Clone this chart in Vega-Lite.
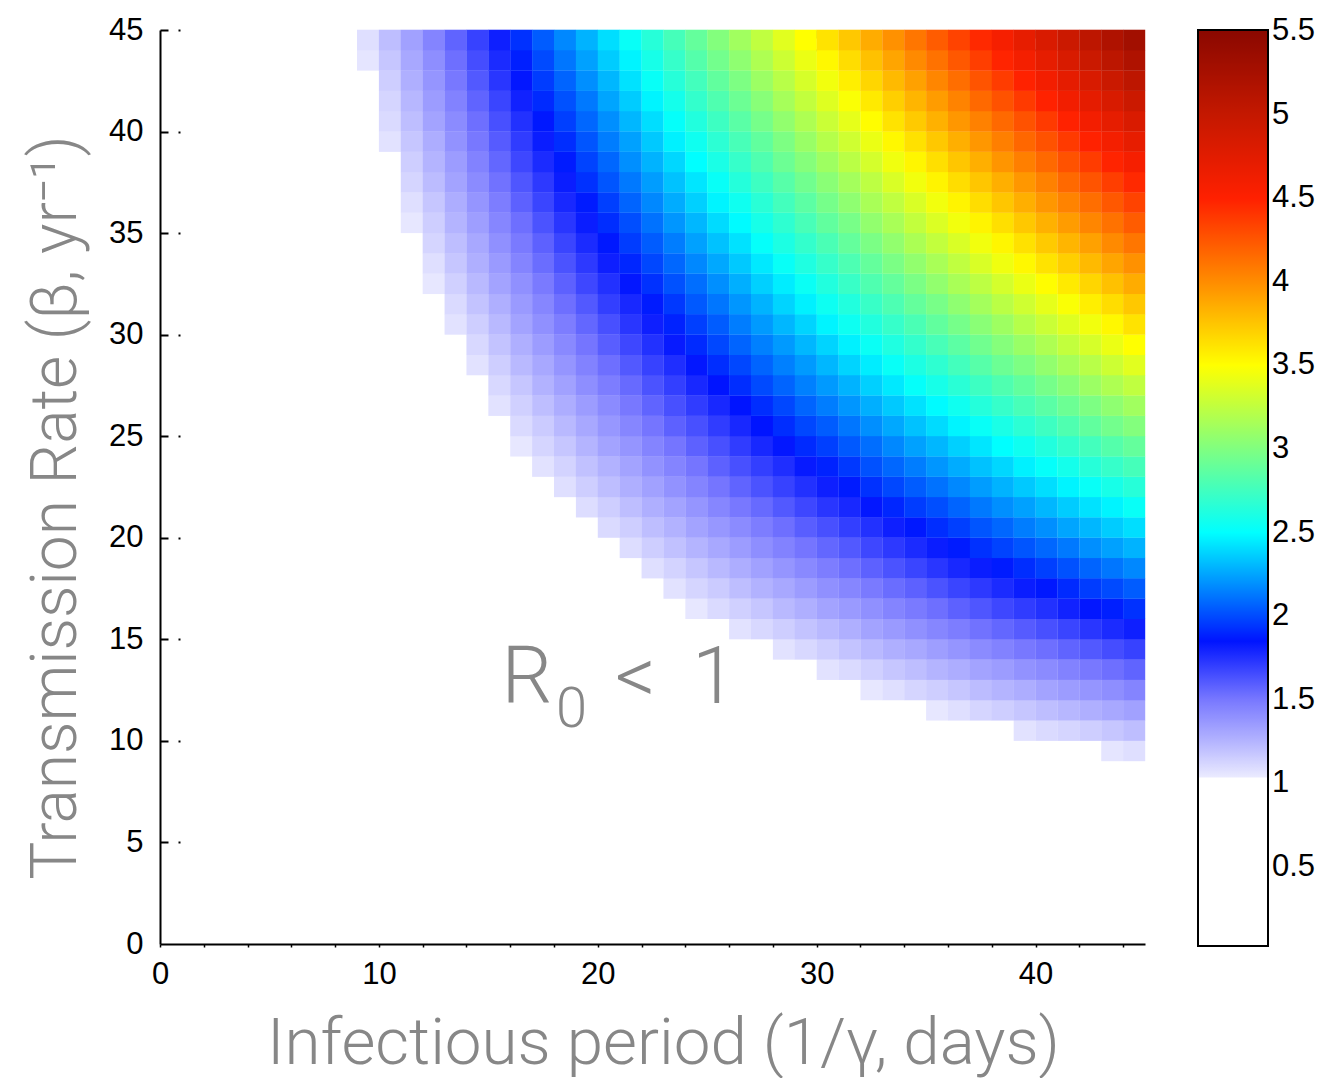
{
"$schema": "https://vega.github.io/schema/vega-lite/v6.json",
"width": 985,
"height": 914,
"autosize": {"type": "none"},
"padding": {"left": 160, "top": 30, "right": 181, "bottom": 134},
"background": "white",
"config": {
  "view": {"stroke": null},
  "axis": {"domainColor": "#000", "domainWidth": 2, "labelFont": "Liberation Sans", "labelFontSize": 31, "labelColor": "#000", "titleFont": "Roboto", "titleFontWeight": 300, "titleFontSize": 64, "titleColor": "#878787", "gridColor": "#000"},
  "legend": {"gradientVerticalMaxLength": 1000}
},
"layer": [
{
"data": {"values": [
{"d":9,"b":43,"r":1.06},{"d":9,"b":44,"r":1.08},
{"d":10,"b":39,"r":1.07},{"d":10,"b":40,"r":1.10},{"d":10,"b":41,"r":1.12},{"d":10,"b":42,"r":1.15},{"d":10,"b":43,"r":1.18},{"d":10,"b":44,"r":1.21},
{"d":11,"b":35,"r":1.05},{"d":11,"b":36,"r":1.08},{"d":11,"b":37,"r":1.12},{"d":11,"b":38,"r":1.15},{"d":11,"b":39,"r":1.18},{"d":11,"b":40,"r":1.21},{"d":11,"b":41,"r":1.24},{"d":11,"b":42,"r":1.27},{"d":11,"b":43,"r":1.30},{"d":11,"b":44,"r":1.33},
{"d":12,"b":32,"r":1.05},{"d":12,"b":33,"r":1.08},{"d":12,"b":34,"r":1.12},{"d":12,"b":35,"r":1.15},{"d":12,"b":36,"r":1.18},{"d":12,"b":37,"r":1.22},{"d":12,"b":38,"r":1.25},{"d":12,"b":39,"r":1.28},{"d":12,"b":40,"r":1.32},{"d":12,"b":41,"r":1.35},{"d":12,"b":42,"r":1.38},{"d":12,"b":43,"r":1.41},{"d":12,"b":44,"r":1.45},
{"d":13,"b":30,"r":1.07},{"d":13,"b":31,"r":1.10},{"d":13,"b":32,"r":1.14},{"d":13,"b":33,"r":1.18},{"d":13,"b":34,"r":1.21},{"d":13,"b":35,"r":1.25},{"d":13,"b":36,"r":1.28},{"d":13,"b":37,"r":1.32},{"d":13,"b":38,"r":1.35},{"d":13,"b":39,"r":1.39},{"d":13,"b":40,"r":1.42},{"d":13,"b":41,"r":1.46},{"d":13,"b":42,"r":1.50},{"d":13,"b":43,"r":1.53},{"d":13,"b":44,"r":1.57},
{"d":14,"b":28,"r":1.07},{"d":14,"b":29,"r":1.11},{"d":14,"b":30,"r":1.15},{"d":14,"b":31,"r":1.19},{"d":14,"b":32,"r":1.23},{"d":14,"b":33,"r":1.27},{"d":14,"b":34,"r":1.30},{"d":14,"b":35,"r":1.34},{"d":14,"b":36,"r":1.38},{"d":14,"b":37,"r":1.42},{"d":14,"b":38,"r":1.46},{"d":14,"b":39,"r":1.50},{"d":14,"b":40,"r":1.53},{"d":14,"b":41,"r":1.57},{"d":14,"b":42,"r":1.61},{"d":14,"b":43,"r":1.65},{"d":14,"b":44,"r":1.69},
{"d":15,"b":26,"r":1.07},{"d":15,"b":27,"r":1.11},{"d":15,"b":28,"r":1.15},{"d":15,"b":29,"r":1.19},{"d":15,"b":30,"r":1.23},{"d":15,"b":31,"r":1.27},{"d":15,"b":32,"r":1.32},{"d":15,"b":33,"r":1.36},{"d":15,"b":34,"r":1.40},{"d":15,"b":35,"r":1.44},{"d":15,"b":36,"r":1.48},{"d":15,"b":37,"r":1.52},{"d":15,"b":38,"r":1.56},{"d":15,"b":39,"r":1.60},{"d":15,"b":40,"r":1.64},{"d":15,"b":41,"r":1.68},{"d":15,"b":42,"r":1.73},{"d":15,"b":43,"r":1.77},{"d":15,"b":44,"r":1.81},
{"d":16,"b":24,"r":1.05},{"d":16,"b":25,"r":1.10},{"d":16,"b":26,"r":1.14},{"d":16,"b":27,"r":1.18},{"d":16,"b":28,"r":1.23},{"d":16,"b":29,"r":1.27},{"d":16,"b":30,"r":1.32},{"d":16,"b":31,"r":1.36},{"d":16,"b":32,"r":1.40},{"d":16,"b":33,"r":1.45},{"d":16,"b":34,"r":1.49},{"d":16,"b":35,"r":1.53},{"d":16,"b":36,"r":1.58},{"d":16,"b":37,"r":1.62},{"d":16,"b":38,"r":1.67},{"d":16,"b":39,"r":1.71},{"d":16,"b":40,"r":1.75},{"d":16,"b":41,"r":1.80},{"d":16,"b":42,"r":1.84},{"d":16,"b":43,"r":1.88},{"d":16,"b":44,"r":1.93},
{"d":17,"b":23,"r":1.07},{"d":17,"b":24,"r":1.12},{"d":17,"b":25,"r":1.16},{"d":17,"b":26,"r":1.21},{"d":17,"b":27,"r":1.26},{"d":17,"b":28,"r":1.30},{"d":17,"b":29,"r":1.35},{"d":17,"b":30,"r":1.40},{"d":17,"b":31,"r":1.44},{"d":17,"b":32,"r":1.49},{"d":17,"b":33,"r":1.54},{"d":17,"b":34,"r":1.58},{"d":17,"b":35,"r":1.63},{"d":17,"b":36,"r":1.68},{"d":17,"b":37,"r":1.72},{"d":17,"b":38,"r":1.77},{"d":17,"b":39,"r":1.82},{"d":17,"b":40,"r":1.86},{"d":17,"b":41,"r":1.91},{"d":17,"b":42,"r":1.96},{"d":17,"b":43,"r":2.00},{"d":17,"b":44,"r":2.05},
{"d":18,"b":22,"r":1.08},{"d":18,"b":23,"r":1.13},{"d":18,"b":24,"r":1.18},{"d":18,"b":25,"r":1.23},{"d":18,"b":26,"r":1.28},{"d":18,"b":27,"r":1.33},{"d":18,"b":28,"r":1.38},{"d":18,"b":29,"r":1.43},{"d":18,"b":30,"r":1.48},{"d":18,"b":31,"r":1.53},{"d":18,"b":32,"r":1.58},{"d":18,"b":33,"r":1.63},{"d":18,"b":34,"r":1.68},{"d":18,"b":35,"r":1.73},{"d":18,"b":36,"r":1.78},{"d":18,"b":37,"r":1.82},{"d":18,"b":38,"r":1.87},{"d":18,"b":39,"r":1.92},{"d":18,"b":40,"r":1.97},{"d":18,"b":41,"r":2.02},{"d":18,"b":42,"r":2.07},{"d":18,"b":43,"r":2.12},{"d":18,"b":44,"r":2.17},
{"d":19,"b":21,"r":1.09},{"d":19,"b":22,"r":1.15},{"d":19,"b":23,"r":1.20},{"d":19,"b":24,"r":1.25},{"d":19,"b":25,"r":1.30},{"d":19,"b":26,"r":1.35},{"d":19,"b":27,"r":1.41},{"d":19,"b":28,"r":1.46},{"d":19,"b":29,"r":1.51},{"d":19,"b":30,"r":1.56},{"d":19,"b":31,"r":1.61},{"d":19,"b":32,"r":1.67},{"d":19,"b":33,"r":1.72},{"d":19,"b":34,"r":1.77},{"d":19,"b":35,"r":1.82},{"d":19,"b":36,"r":1.87},{"d":19,"b":37,"r":1.93},{"d":19,"b":38,"r":1.98},{"d":19,"b":39,"r":2.03},{"d":19,"b":40,"r":2.08},{"d":19,"b":41,"r":2.13},{"d":19,"b":42,"r":2.19},{"d":19,"b":43,"r":2.24},{"d":19,"b":44,"r":2.29},
{"d":20,"b":20,"r":1.10},{"d":20,"b":21,"r":1.15},{"d":20,"b":22,"r":1.21},{"d":20,"b":23,"r":1.26},{"d":20,"b":24,"r":1.32},{"d":20,"b":25,"r":1.37},{"d":20,"b":26,"r":1.42},{"d":20,"b":27,"r":1.48},{"d":20,"b":28,"r":1.53},{"d":20,"b":29,"r":1.59},{"d":20,"b":30,"r":1.64},{"d":20,"b":31,"r":1.70},{"d":20,"b":32,"r":1.75},{"d":20,"b":33,"r":1.81},{"d":20,"b":34,"r":1.86},{"d":20,"b":35,"r":1.92},{"d":20,"b":36,"r":1.97},{"d":20,"b":37,"r":2.03},{"d":20,"b":38,"r":2.08},{"d":20,"b":39,"r":2.14},{"d":20,"b":40,"r":2.19},{"d":20,"b":41,"r":2.25},{"d":20,"b":42,"r":2.30},{"d":20,"b":43,"r":2.36},{"d":20,"b":44,"r":2.41},
{"d":21,"b":19,"r":1.09},{"d":21,"b":20,"r":1.15},{"d":21,"b":21,"r":1.21},{"d":21,"b":22,"r":1.27},{"d":21,"b":23,"r":1.32},{"d":21,"b":24,"r":1.38},{"d":21,"b":25,"r":1.44},{"d":21,"b":26,"r":1.50},{"d":21,"b":27,"r":1.55},{"d":21,"b":28,"r":1.61},{"d":21,"b":29,"r":1.67},{"d":21,"b":30,"r":1.73},{"d":21,"b":31,"r":1.78},{"d":21,"b":32,"r":1.84},{"d":21,"b":33,"r":1.90},{"d":21,"b":34,"r":1.96},{"d":21,"b":35,"r":2.01},{"d":21,"b":36,"r":2.07},{"d":21,"b":37,"r":2.13},{"d":21,"b":38,"r":2.19},{"d":21,"b":39,"r":2.24},{"d":21,"b":40,"r":2.30},{"d":21,"b":41,"r":2.36},{"d":21,"b":42,"r":2.42},{"d":21,"b":43,"r":2.47},{"d":21,"b":44,"r":2.53},
{"d":22,"b":18,"r":1.08},{"d":22,"b":19,"r":1.15},{"d":22,"b":20,"r":1.21},{"d":22,"b":21,"r":1.27},{"d":22,"b":22,"r":1.33},{"d":22,"b":23,"r":1.39},{"d":22,"b":24,"r":1.45},{"d":22,"b":25,"r":1.51},{"d":22,"b":26,"r":1.57},{"d":22,"b":27,"r":1.63},{"d":22,"b":28,"r":1.69},{"d":22,"b":29,"r":1.75},{"d":22,"b":30,"r":1.81},{"d":22,"b":31,"r":1.87},{"d":22,"b":32,"r":1.93},{"d":22,"b":33,"r":1.99},{"d":22,"b":34,"r":2.05},{"d":22,"b":35,"r":2.11},{"d":22,"b":36,"r":2.17},{"d":22,"b":37,"r":2.23},{"d":22,"b":38,"r":2.29},{"d":22,"b":39,"r":2.35},{"d":22,"b":40,"r":2.41},{"d":22,"b":41,"r":2.47},{"d":22,"b":42,"r":2.53},{"d":22,"b":43,"r":2.59},{"d":22,"b":44,"r":2.65},
{"d":23,"b":17,"r":1.07},{"d":23,"b":18,"r":1.13},{"d":23,"b":19,"r":1.20},{"d":23,"b":20,"r":1.26},{"d":23,"b":21,"r":1.32},{"d":23,"b":22,"r":1.39},{"d":23,"b":23,"r":1.45},{"d":23,"b":24,"r":1.51},{"d":23,"b":25,"r":1.58},{"d":23,"b":26,"r":1.64},{"d":23,"b":27,"r":1.70},{"d":23,"b":28,"r":1.76},{"d":23,"b":29,"r":1.83},{"d":23,"b":30,"r":1.89},{"d":23,"b":31,"r":1.95},{"d":23,"b":32,"r":2.02},{"d":23,"b":33,"r":2.08},{"d":23,"b":34,"r":2.14},{"d":23,"b":35,"r":2.21},{"d":23,"b":36,"r":2.27},{"d":23,"b":37,"r":2.33},{"d":23,"b":38,"r":2.39},{"d":23,"b":39,"r":2.46},{"d":23,"b":40,"r":2.52},{"d":23,"b":41,"r":2.58},{"d":23,"b":42,"r":2.65},{"d":23,"b":43,"r":2.71},{"d":23,"b":44,"r":2.77},
{"d":24,"b":16,"r":1.05},{"d":24,"b":17,"r":1.12},{"d":24,"b":18,"r":1.18},{"d":24,"b":19,"r":1.25},{"d":24,"b":20,"r":1.32},{"d":24,"b":21,"r":1.38},{"d":24,"b":22,"r":1.45},{"d":24,"b":23,"r":1.51},{"d":24,"b":24,"r":1.58},{"d":24,"b":25,"r":1.64},{"d":24,"b":26,"r":1.71},{"d":24,"b":27,"r":1.78},{"d":24,"b":28,"r":1.84},{"d":24,"b":29,"r":1.91},{"d":24,"b":30,"r":1.97},{"d":24,"b":31,"r":2.04},{"d":24,"b":32,"r":2.10},{"d":24,"b":33,"r":2.17},{"d":24,"b":34,"r":2.24},{"d":24,"b":35,"r":2.30},{"d":24,"b":36,"r":2.37},{"d":24,"b":37,"r":2.43},{"d":24,"b":38,"r":2.50},{"d":24,"b":39,"r":2.56},{"d":24,"b":40,"r":2.63},{"d":24,"b":41,"r":2.70},{"d":24,"b":42,"r":2.76},{"d":24,"b":43,"r":2.83},{"d":24,"b":44,"r":2.89},
{"d":25,"b":16,"r":1.10},{"d":25,"b":17,"r":1.16},{"d":25,"b":18,"r":1.23},{"d":25,"b":19,"r":1.30},{"d":25,"b":20,"r":1.37},{"d":25,"b":21,"r":1.44},{"d":25,"b":22,"r":1.51},{"d":25,"b":23,"r":1.58},{"d":25,"b":24,"r":1.64},{"d":25,"b":25,"r":1.71},{"d":25,"b":26,"r":1.78},{"d":25,"b":27,"r":1.85},{"d":25,"b":28,"r":1.92},{"d":25,"b":29,"r":1.99},{"d":25,"b":30,"r":2.05},{"d":25,"b":31,"r":2.12},{"d":25,"b":32,"r":2.19},{"d":25,"b":33,"r":2.26},{"d":25,"b":34,"r":2.33},{"d":25,"b":35,"r":2.40},{"d":25,"b":36,"r":2.47},{"d":25,"b":37,"r":2.53},{"d":25,"b":38,"r":2.60},{"d":25,"b":39,"r":2.67},{"d":25,"b":40,"r":2.74},{"d":25,"b":41,"r":2.81},{"d":25,"b":42,"r":2.88},{"d":25,"b":43,"r":2.95},{"d":25,"b":44,"r":3.01},
{"d":26,"b":15,"r":1.07},{"d":26,"b":16,"r":1.14},{"d":26,"b":17,"r":1.21},{"d":26,"b":18,"r":1.28},{"d":26,"b":19,"r":1.35},{"d":26,"b":20,"r":1.42},{"d":26,"b":21,"r":1.50},{"d":26,"b":22,"r":1.57},{"d":26,"b":23,"r":1.64},{"d":26,"b":24,"r":1.71},{"d":26,"b":25,"r":1.78},{"d":26,"b":26,"r":1.85},{"d":26,"b":27,"r":1.92},{"d":26,"b":28,"r":1.99},{"d":26,"b":29,"r":2.07},{"d":26,"b":30,"r":2.14},{"d":26,"b":31,"r":2.21},{"d":26,"b":32,"r":2.28},{"d":26,"b":33,"r":2.35},{"d":26,"b":34,"r":2.42},{"d":26,"b":35,"r":2.49},{"d":26,"b":36,"r":2.56},{"d":26,"b":37,"r":2.64},{"d":26,"b":38,"r":2.71},{"d":26,"b":39,"r":2.78},{"d":26,"b":40,"r":2.85},{"d":26,"b":41,"r":2.92},{"d":26,"b":42,"r":2.99},{"d":26,"b":43,"r":3.06},{"d":26,"b":44,"r":3.13},
{"d":27,"b":15,"r":1.11},{"d":27,"b":16,"r":1.18},{"d":27,"b":17,"r":1.26},{"d":27,"b":18,"r":1.33},{"d":27,"b":19,"r":1.41},{"d":27,"b":20,"r":1.48},{"d":27,"b":21,"r":1.55},{"d":27,"b":22,"r":1.63},{"d":27,"b":23,"r":1.70},{"d":27,"b":24,"r":1.78},{"d":27,"b":25,"r":1.85},{"d":27,"b":26,"r":1.92},{"d":27,"b":27,"r":2.00},{"d":27,"b":28,"r":2.07},{"d":27,"b":29,"r":2.15},{"d":27,"b":30,"r":2.22},{"d":27,"b":31,"r":2.29},{"d":27,"b":32,"r":2.37},{"d":27,"b":33,"r":2.44},{"d":27,"b":34,"r":2.52},{"d":27,"b":35,"r":2.59},{"d":27,"b":36,"r":2.66},{"d":27,"b":37,"r":2.74},{"d":27,"b":38,"r":2.81},{"d":27,"b":39,"r":2.88},{"d":27,"b":40,"r":2.96},{"d":27,"b":41,"r":3.03},{"d":27,"b":42,"r":3.11},{"d":27,"b":43,"r":3.18},{"d":27,"b":44,"r":3.25},
{"d":28,"b":14,"r":1.07},{"d":28,"b":15,"r":1.15},{"d":28,"b":16,"r":1.23},{"d":28,"b":17,"r":1.30},{"d":28,"b":18,"r":1.38},{"d":28,"b":19,"r":1.46},{"d":28,"b":20,"r":1.53},{"d":28,"b":21,"r":1.61},{"d":28,"b":22,"r":1.69},{"d":28,"b":23,"r":1.76},{"d":28,"b":24,"r":1.84},{"d":28,"b":25,"r":1.92},{"d":28,"b":26,"r":1.99},{"d":28,"b":27,"r":2.07},{"d":28,"b":28,"r":2.15},{"d":28,"b":29,"r":2.22},{"d":28,"b":30,"r":2.30},{"d":28,"b":31,"r":2.38},{"d":28,"b":32,"r":2.45},{"d":28,"b":33,"r":2.53},{"d":28,"b":34,"r":2.61},{"d":28,"b":35,"r":2.68},{"d":28,"b":36,"r":2.76},{"d":28,"b":37,"r":2.84},{"d":28,"b":38,"r":2.92},{"d":28,"b":39,"r":2.99},{"d":28,"b":40,"r":3.07},{"d":28,"b":41,"r":3.15},{"d":28,"b":42,"r":3.22},{"d":28,"b":43,"r":3.30},{"d":28,"b":44,"r":3.38},
{"d":29,"b":14,"r":1.11},{"d":29,"b":15,"r":1.19},{"d":29,"b":16,"r":1.27},{"d":29,"b":17,"r":1.35},{"d":29,"b":18,"r":1.43},{"d":29,"b":19,"r":1.51},{"d":29,"b":20,"r":1.59},{"d":29,"b":21,"r":1.67},{"d":29,"b":22,"r":1.75},{"d":29,"b":23,"r":1.83},{"d":29,"b":24,"r":1.91},{"d":29,"b":25,"r":1.99},{"d":29,"b":26,"r":2.07},{"d":29,"b":27,"r":2.15},{"d":29,"b":28,"r":2.22},{"d":29,"b":29,"r":2.30},{"d":29,"b":30,"r":2.38},{"d":29,"b":31,"r":2.46},{"d":29,"b":32,"r":2.54},{"d":29,"b":33,"r":2.62},{"d":29,"b":34,"r":2.70},{"d":29,"b":35,"r":2.78},{"d":29,"b":36,"r":2.86},{"d":29,"b":37,"r":2.94},{"d":29,"b":38,"r":3.02},{"d":29,"b":39,"r":3.10},{"d":29,"b":40,"r":3.18},{"d":29,"b":41,"r":3.26},{"d":29,"b":42,"r":3.34},{"d":29,"b":43,"r":3.42},{"d":29,"b":44,"r":3.50},
{"d":30,"b":13,"r":1.07},{"d":30,"b":14,"r":1.15},{"d":30,"b":15,"r":1.23},{"d":30,"b":16,"r":1.32},{"d":30,"b":17,"r":1.40},{"d":30,"b":18,"r":1.48},{"d":30,"b":19,"r":1.56},{"d":30,"b":20,"r":1.64},{"d":30,"b":21,"r":1.73},{"d":30,"b":22,"r":1.81},{"d":30,"b":23,"r":1.89},{"d":30,"b":24,"r":1.97},{"d":30,"b":25,"r":2.05},{"d":30,"b":26,"r":2.14},{"d":30,"b":27,"r":2.22},{"d":30,"b":28,"r":2.30},{"d":30,"b":29,"r":2.38},{"d":30,"b":30,"r":2.47},{"d":30,"b":31,"r":2.55},{"d":30,"b":32,"r":2.63},{"d":30,"b":33,"r":2.71},{"d":30,"b":34,"r":2.79},{"d":30,"b":35,"r":2.88},{"d":30,"b":36,"r":2.96},{"d":30,"b":37,"r":3.04},{"d":30,"b":38,"r":3.12},{"d":30,"b":39,"r":3.21},{"d":30,"b":40,"r":3.29},{"d":30,"b":41,"r":3.37},{"d":30,"b":42,"r":3.45},{"d":30,"b":43,"r":3.53},{"d":30,"b":44,"r":3.62},
{"d":31,"b":13,"r":1.10},{"d":31,"b":14,"r":1.19},{"d":31,"b":15,"r":1.27},{"d":31,"b":16,"r":1.36},{"d":31,"b":17,"r":1.44},{"d":31,"b":18,"r":1.53},{"d":31,"b":19,"r":1.61},{"d":31,"b":20,"r":1.70},{"d":31,"b":21,"r":1.78},{"d":31,"b":22,"r":1.87},{"d":31,"b":23,"r":1.95},{"d":31,"b":24,"r":2.04},{"d":31,"b":25,"r":2.12},{"d":31,"b":26,"r":2.21},{"d":31,"b":27,"r":2.29},{"d":31,"b":28,"r":2.38},{"d":31,"b":29,"r":2.46},{"d":31,"b":30,"r":2.55},{"d":31,"b":31,"r":2.63},{"d":31,"b":32,"r":2.72},{"d":31,"b":33,"r":2.80},{"d":31,"b":34,"r":2.89},{"d":31,"b":35,"r":2.97},{"d":31,"b":36,"r":3.06},{"d":31,"b":37,"r":3.14},{"d":31,"b":38,"r":3.23},{"d":31,"b":39,"r":3.31},{"d":31,"b":40,"r":3.40},{"d":31,"b":41,"r":3.48},{"d":31,"b":42,"r":3.57},{"d":31,"b":43,"r":3.65},{"d":31,"b":44,"r":3.74},
{"d":32,"b":12,"r":1.05},{"d":32,"b":13,"r":1.14},{"d":32,"b":14,"r":1.23},{"d":32,"b":15,"r":1.32},{"d":32,"b":16,"r":1.40},{"d":32,"b":17,"r":1.49},{"d":32,"b":18,"r":1.58},{"d":32,"b":19,"r":1.67},{"d":32,"b":20,"r":1.75},{"d":32,"b":21,"r":1.84},{"d":32,"b":22,"r":1.93},{"d":32,"b":23,"r":2.02},{"d":32,"b":24,"r":2.10},{"d":32,"b":25,"r":2.19},{"d":32,"b":26,"r":2.28},{"d":32,"b":27,"r":2.37},{"d":32,"b":28,"r":2.45},{"d":32,"b":29,"r":2.54},{"d":32,"b":30,"r":2.63},{"d":32,"b":31,"r":2.72},{"d":32,"b":32,"r":2.81},{"d":32,"b":33,"r":2.89},{"d":32,"b":34,"r":2.98},{"d":32,"b":35,"r":3.07},{"d":32,"b":36,"r":3.16},{"d":32,"b":37,"r":3.24},{"d":32,"b":38,"r":3.33},{"d":32,"b":39,"r":3.42},{"d":32,"b":40,"r":3.51},{"d":32,"b":41,"r":3.59},{"d":32,"b":42,"r":3.68},{"d":32,"b":43,"r":3.77},{"d":32,"b":44,"r":3.86},
{"d":33,"b":12,"r":1.08},{"d":33,"b":13,"r":1.18},{"d":33,"b":14,"r":1.27},{"d":33,"b":15,"r":1.36},{"d":33,"b":16,"r":1.45},{"d":33,"b":17,"r":1.54},{"d":33,"b":18,"r":1.63},{"d":33,"b":19,"r":1.72},{"d":33,"b":20,"r":1.81},{"d":33,"b":21,"r":1.90},{"d":33,"b":22,"r":1.99},{"d":33,"b":23,"r":2.08},{"d":33,"b":24,"r":2.17},{"d":33,"b":25,"r":2.26},{"d":33,"b":26,"r":2.35},{"d":33,"b":27,"r":2.44},{"d":33,"b":28,"r":2.53},{"d":33,"b":29,"r":2.62},{"d":33,"b":30,"r":2.71},{"d":33,"b":31,"r":2.80},{"d":33,"b":32,"r":2.89},{"d":33,"b":33,"r":2.98},{"d":33,"b":34,"r":3.07},{"d":33,"b":35,"r":3.16},{"d":33,"b":36,"r":3.25},{"d":33,"b":37,"r":3.35},{"d":33,"b":38,"r":3.44},{"d":33,"b":39,"r":3.53},{"d":33,"b":40,"r":3.62},{"d":33,"b":41,"r":3.71},{"d":33,"b":42,"r":3.80},{"d":33,"b":43,"r":3.89},{"d":33,"b":44,"r":3.98},
{"d":34,"b":12,"r":1.12},{"d":34,"b":13,"r":1.21},{"d":34,"b":14,"r":1.30},{"d":34,"b":15,"r":1.40},{"d":34,"b":16,"r":1.49},{"d":34,"b":17,"r":1.58},{"d":34,"b":18,"r":1.68},{"d":34,"b":19,"r":1.77},{"d":34,"b":20,"r":1.86},{"d":34,"b":21,"r":1.96},{"d":34,"b":22,"r":2.05},{"d":34,"b":23,"r":2.14},{"d":34,"b":24,"r":2.24},{"d":34,"b":25,"r":2.33},{"d":34,"b":26,"r":2.42},{"d":34,"b":27,"r":2.52},{"d":34,"b":28,"r":2.61},{"d":34,"b":29,"r":2.70},{"d":34,"b":30,"r":2.79},{"d":34,"b":31,"r":2.89},{"d":34,"b":32,"r":2.98},{"d":34,"b":33,"r":3.07},{"d":34,"b":34,"r":3.17},{"d":34,"b":35,"r":3.26},{"d":34,"b":36,"r":3.35},{"d":34,"b":37,"r":3.45},{"d":34,"b":38,"r":3.54},{"d":34,"b":39,"r":3.63},{"d":34,"b":40,"r":3.73},{"d":34,"b":41,"r":3.82},{"d":34,"b":42,"r":3.91},{"d":34,"b":43,"r":4.01},{"d":34,"b":44,"r":4.10},
{"d":35,"b":11,"r":1.05},{"d":35,"b":12,"r":1.15},{"d":35,"b":13,"r":1.25},{"d":35,"b":14,"r":1.34},{"d":35,"b":15,"r":1.44},{"d":35,"b":16,"r":1.53},{"d":35,"b":17,"r":1.63},{"d":35,"b":18,"r":1.73},{"d":35,"b":19,"r":1.82},{"d":35,"b":20,"r":1.92},{"d":35,"b":21,"r":2.01},{"d":35,"b":22,"r":2.11},{"d":35,"b":23,"r":2.21},{"d":35,"b":24,"r":2.30},{"d":35,"b":25,"r":2.40},{"d":35,"b":26,"r":2.49},{"d":35,"b":27,"r":2.59},{"d":35,"b":28,"r":2.68},{"d":35,"b":29,"r":2.78},{"d":35,"b":30,"r":2.88},{"d":35,"b":31,"r":2.97},{"d":35,"b":32,"r":3.07},{"d":35,"b":33,"r":3.16},{"d":35,"b":34,"r":3.26},{"d":35,"b":35,"r":3.36},{"d":35,"b":36,"r":3.45},{"d":35,"b":37,"r":3.55},{"d":35,"b":38,"r":3.64},{"d":35,"b":39,"r":3.74},{"d":35,"b":40,"r":3.84},{"d":35,"b":41,"r":3.93},{"d":35,"b":42,"r":4.03},{"d":35,"b":43,"r":4.12},{"d":35,"b":44,"r":4.22},
{"d":36,"b":11,"r":1.08},{"d":36,"b":12,"r":1.18},{"d":36,"b":13,"r":1.28},{"d":36,"b":14,"r":1.38},{"d":36,"b":15,"r":1.48},{"d":36,"b":16,"r":1.58},{"d":36,"b":17,"r":1.68},{"d":36,"b":18,"r":1.78},{"d":36,"b":19,"r":1.87},{"d":36,"b":20,"r":1.97},{"d":36,"b":21,"r":2.07},{"d":36,"b":22,"r":2.17},{"d":36,"b":23,"r":2.27},{"d":36,"b":24,"r":2.37},{"d":36,"b":25,"r":2.47},{"d":36,"b":26,"r":2.56},{"d":36,"b":27,"r":2.66},{"d":36,"b":28,"r":2.76},{"d":36,"b":29,"r":2.86},{"d":36,"b":30,"r":2.96},{"d":36,"b":31,"r":3.06},{"d":36,"b":32,"r":3.16},{"d":36,"b":33,"r":3.25},{"d":36,"b":34,"r":3.35},{"d":36,"b":35,"r":3.45},{"d":36,"b":36,"r":3.55},{"d":36,"b":37,"r":3.65},{"d":36,"b":38,"r":3.75},{"d":36,"b":39,"r":3.85},{"d":36,"b":40,"r":3.95},{"d":36,"b":41,"r":4.04},{"d":36,"b":42,"r":4.14},{"d":36,"b":43,"r":4.24},{"d":36,"b":44,"r":4.34},
{"d":37,"b":11,"r":1.12},{"d":37,"b":12,"r":1.22},{"d":37,"b":13,"r":1.32},{"d":37,"b":14,"r":1.42},{"d":37,"b":15,"r":1.52},{"d":37,"b":16,"r":1.62},{"d":37,"b":17,"r":1.72},{"d":37,"b":18,"r":1.82},{"d":37,"b":19,"r":1.93},{"d":37,"b":20,"r":2.03},{"d":37,"b":21,"r":2.13},{"d":37,"b":22,"r":2.23},{"d":37,"b":23,"r":2.33},{"d":37,"b":24,"r":2.43},{"d":37,"b":25,"r":2.53},{"d":37,"b":26,"r":2.64},{"d":37,"b":27,"r":2.74},{"d":37,"b":28,"r":2.84},{"d":37,"b":29,"r":2.94},{"d":37,"b":30,"r":3.04},{"d":37,"b":31,"r":3.14},{"d":37,"b":32,"r":3.24},{"d":37,"b":33,"r":3.35},{"d":37,"b":34,"r":3.45},{"d":37,"b":35,"r":3.55},{"d":37,"b":36,"r":3.65},{"d":37,"b":37,"r":3.75},{"d":37,"b":38,"r":3.85},{"d":37,"b":39,"r":3.95},{"d":37,"b":40,"r":4.05},{"d":37,"b":41,"r":4.16},{"d":37,"b":42,"r":4.26},{"d":37,"b":43,"r":4.36},{"d":37,"b":44,"r":4.46},
{"d":38,"b":11,"r":1.15},{"d":38,"b":12,"r":1.25},{"d":38,"b":13,"r":1.35},{"d":38,"b":14,"r":1.46},{"d":38,"b":15,"r":1.56},{"d":38,"b":16,"r":1.67},{"d":38,"b":17,"r":1.77},{"d":38,"b":18,"r":1.87},{"d":38,"b":19,"r":1.98},{"d":38,"b":20,"r":2.08},{"d":38,"b":21,"r":2.19},{"d":38,"b":22,"r":2.29},{"d":38,"b":23,"r":2.39},{"d":38,"b":24,"r":2.50},{"d":38,"b":25,"r":2.60},{"d":38,"b":26,"r":2.71},{"d":38,"b":27,"r":2.81},{"d":38,"b":28,"r":2.92},{"d":38,"b":29,"r":3.02},{"d":38,"b":30,"r":3.12},{"d":38,"b":31,"r":3.23},{"d":38,"b":32,"r":3.33},{"d":38,"b":33,"r":3.44},{"d":38,"b":34,"r":3.54},{"d":38,"b":35,"r":3.64},{"d":38,"b":36,"r":3.75},{"d":38,"b":37,"r":3.85},{"d":38,"b":38,"r":3.96},{"d":38,"b":39,"r":4.06},{"d":38,"b":40,"r":4.16},{"d":38,"b":41,"r":4.27},{"d":38,"b":42,"r":4.37},{"d":38,"b":43,"r":4.48},{"d":38,"b":44,"r":4.58},
{"d":39,"b":10,"r":1.07},{"d":39,"b":11,"r":1.18},{"d":39,"b":12,"r":1.28},{"d":39,"b":13,"r":1.39},{"d":39,"b":14,"r":1.50},{"d":39,"b":15,"r":1.60},{"d":39,"b":16,"r":1.71},{"d":39,"b":17,"r":1.82},{"d":39,"b":18,"r":1.92},{"d":39,"b":19,"r":2.03},{"d":39,"b":20,"r":2.14},{"d":39,"b":21,"r":2.24},{"d":39,"b":22,"r":2.35},{"d":39,"b":23,"r":2.46},{"d":39,"b":24,"r":2.56},{"d":39,"b":25,"r":2.67},{"d":39,"b":26,"r":2.78},{"d":39,"b":27,"r":2.88},{"d":39,"b":28,"r":2.99},{"d":39,"b":29,"r":3.10},{"d":39,"b":30,"r":3.21},{"d":39,"b":31,"r":3.31},{"d":39,"b":32,"r":3.42},{"d":39,"b":33,"r":3.53},{"d":39,"b":34,"r":3.63},{"d":39,"b":35,"r":3.74},{"d":39,"b":36,"r":3.85},{"d":39,"b":37,"r":3.95},{"d":39,"b":38,"r":4.06},{"d":39,"b":39,"r":4.17},{"d":39,"b":40,"r":4.27},{"d":39,"b":41,"r":4.38},{"d":39,"b":42,"r":4.49},{"d":39,"b":43,"r":4.59},{"d":39,"b":44,"r":4.70},
{"d":40,"b":10,"r":1.10},{"d":40,"b":11,"r":1.21},{"d":40,"b":12,"r":1.32},{"d":40,"b":13,"r":1.42},{"d":40,"b":14,"r":1.53},{"d":40,"b":15,"r":1.64},{"d":40,"b":16,"r":1.75},{"d":40,"b":17,"r":1.86},{"d":40,"b":18,"r":1.97},{"d":40,"b":19,"r":2.08},{"d":40,"b":20,"r":2.19},{"d":40,"b":21,"r":2.30},{"d":40,"b":22,"r":2.41},{"d":40,"b":23,"r":2.52},{"d":40,"b":24,"r":2.63},{"d":40,"b":25,"r":2.74},{"d":40,"b":26,"r":2.85},{"d":40,"b":27,"r":2.96},{"d":40,"b":28,"r":3.07},{"d":40,"b":29,"r":3.18},{"d":40,"b":30,"r":3.29},{"d":40,"b":31,"r":3.40},{"d":40,"b":32,"r":3.51},{"d":40,"b":33,"r":3.62},{"d":40,"b":34,"r":3.73},{"d":40,"b":35,"r":3.84},{"d":40,"b":36,"r":3.95},{"d":40,"b":37,"r":4.05},{"d":40,"b":38,"r":4.16},{"d":40,"b":39,"r":4.27},{"d":40,"b":40,"r":4.38},{"d":40,"b":41,"r":4.49},{"d":40,"b":42,"r":4.60},{"d":40,"b":43,"r":4.71},{"d":40,"b":44,"r":4.82},
{"d":41,"b":10,"r":1.12},{"d":41,"b":11,"r":1.24},{"d":41,"b":12,"r":1.35},{"d":41,"b":13,"r":1.46},{"d":41,"b":14,"r":1.57},{"d":41,"b":15,"r":1.68},{"d":41,"b":16,"r":1.80},{"d":41,"b":17,"r":1.91},{"d":41,"b":18,"r":2.02},{"d":41,"b":19,"r":2.13},{"d":41,"b":20,"r":2.25},{"d":41,"b":21,"r":2.36},{"d":41,"b":22,"r":2.47},{"d":41,"b":23,"r":2.58},{"d":41,"b":24,"r":2.70},{"d":41,"b":25,"r":2.81},{"d":41,"b":26,"r":2.92},{"d":41,"b":27,"r":3.03},{"d":41,"b":28,"r":3.15},{"d":41,"b":29,"r":3.26},{"d":41,"b":30,"r":3.37},{"d":41,"b":31,"r":3.48},{"d":41,"b":32,"r":3.59},{"d":41,"b":33,"r":3.71},{"d":41,"b":34,"r":3.82},{"d":41,"b":35,"r":3.93},{"d":41,"b":36,"r":4.04},{"d":41,"b":37,"r":4.16},{"d":41,"b":38,"r":4.27},{"d":41,"b":39,"r":4.38},{"d":41,"b":40,"r":4.49},{"d":41,"b":41,"r":4.61},{"d":41,"b":42,"r":4.72},{"d":41,"b":43,"r":4.83},{"d":41,"b":44,"r":4.94},
{"d":42,"b":10,"r":1.15},{"d":42,"b":11,"r":1.27},{"d":42,"b":12,"r":1.38},{"d":42,"b":13,"r":1.50},{"d":42,"b":14,"r":1.61},{"d":42,"b":15,"r":1.73},{"d":42,"b":16,"r":1.84},{"d":42,"b":17,"r":1.96},{"d":42,"b":18,"r":2.07},{"d":42,"b":19,"r":2.19},{"d":42,"b":20,"r":2.30},{"d":42,"b":21,"r":2.42},{"d":42,"b":22,"r":2.53},{"d":42,"b":23,"r":2.65},{"d":42,"b":24,"r":2.76},{"d":42,"b":25,"r":2.88},{"d":42,"b":26,"r":2.99},{"d":42,"b":27,"r":3.11},{"d":42,"b":28,"r":3.22},{"d":42,"b":29,"r":3.34},{"d":42,"b":30,"r":3.45},{"d":42,"b":31,"r":3.57},{"d":42,"b":32,"r":3.68},{"d":42,"b":33,"r":3.80},{"d":42,"b":34,"r":3.91},{"d":42,"b":35,"r":4.03},{"d":42,"b":36,"r":4.14},{"d":42,"b":37,"r":4.26},{"d":42,"b":38,"r":4.37},{"d":42,"b":39,"r":4.49},{"d":42,"b":40,"r":4.60},{"d":42,"b":41,"r":4.72},{"d":42,"b":42,"r":4.83},{"d":42,"b":43,"r":4.95},{"d":42,"b":44,"r":5.06},
{"d":43,"b":9,"r":1.06},{"d":43,"b":10,"r":1.18},{"d":43,"b":11,"r":1.30},{"d":43,"b":12,"r":1.41},{"d":43,"b":13,"r":1.53},{"d":43,"b":14,"r":1.65},{"d":43,"b":15,"r":1.77},{"d":43,"b":16,"r":1.88},{"d":43,"b":17,"r":2.00},{"d":43,"b":18,"r":2.12},{"d":43,"b":19,"r":2.24},{"d":43,"b":20,"r":2.36},{"d":43,"b":21,"r":2.47},{"d":43,"b":22,"r":2.59},{"d":43,"b":23,"r":2.71},{"d":43,"b":24,"r":2.83},{"d":43,"b":25,"r":2.95},{"d":43,"b":26,"r":3.06},{"d":43,"b":27,"r":3.18},{"d":43,"b":28,"r":3.30},{"d":43,"b":29,"r":3.42},{"d":43,"b":30,"r":3.53},{"d":43,"b":31,"r":3.65},{"d":43,"b":32,"r":3.77},{"d":43,"b":33,"r":3.89},{"d":43,"b":34,"r":4.01},{"d":43,"b":35,"r":4.12},{"d":43,"b":36,"r":4.24},{"d":43,"b":37,"r":4.36},{"d":43,"b":38,"r":4.48},{"d":43,"b":39,"r":4.59},{"d":43,"b":40,"r":4.71},{"d":43,"b":41,"r":4.83},{"d":43,"b":42,"r":4.95},{"d":43,"b":43,"r":5.07},{"d":43,"b":44,"r":5.18},
{"d":44,"b":9,"r":1.08},{"d":44,"b":10,"r":1.21},{"d":44,"b":11,"r":1.33},{"d":44,"b":12,"r":1.45},{"d":44,"b":13,"r":1.57},{"d":44,"b":14,"r":1.69},{"d":44,"b":15,"r":1.81},{"d":44,"b":16,"r":1.93},{"d":44,"b":17,"r":2.05},{"d":44,"b":18,"r":2.17},{"d":44,"b":19,"r":2.29},{"d":44,"b":20,"r":2.41},{"d":44,"b":21,"r":2.53},{"d":44,"b":22,"r":2.65},{"d":44,"b":23,"r":2.77},{"d":44,"b":24,"r":2.89},{"d":44,"b":25,"r":3.01},{"d":44,"b":26,"r":3.13},{"d":44,"b":27,"r":3.25},{"d":44,"b":28,"r":3.38},{"d":44,"b":29,"r":3.50},{"d":44,"b":30,"r":3.62},{"d":44,"b":31,"r":3.74},{"d":44,"b":32,"r":3.86},{"d":44,"b":33,"r":3.98},{"d":44,"b":34,"r":4.10},{"d":44,"b":35,"r":4.22},{"d":44,"b":36,"r":4.34},{"d":44,"b":37,"r":4.46},{"d":44,"b":38,"r":4.58},{"d":44,"b":39,"r":4.70},{"d":44,"b":40,"r":4.82},{"d":44,"b":41,"r":4.94},{"d":44,"b":42,"r":5.06},{"d":44,"b":43,"r":5.18},{"d":44,"b":44,"r":5.30}
]},
"mark": {"type": "rect", "x2Offset": 22.1, "y2Offset": -20.6, "strokeWidth": 0},
"encoding": {
  "x": {"field": "d", "type": "quantitative",
    "scale": {"domain": [0, 45], "nice": false, "zero": false},
    "axis": {"values": [0,1,2,3,4,5,6,7,8,9,10,11,12,13,14,15,16,17,18,19,20,21,22,23,24,25,26,27,28,29,30,31,32,33,34,35,36,37,38,39,40,41,42,43,44,45],
      "labelExpr": "datum.value % 10 === 0 ? datum.label : ''", "labelOverlap": false, "labelFlush": false,
      "tickSize": 3, "tickColor": "#000", "tickWidth": 1.5, "labelPadding": 12, "labelBaseline": "top",
      "grid": true, "gridWidth": 2,
      "gridDash": {"condition": {"test": "datum.value % 10 === 0", "value": [8, 11, 2, 5000]}, "value": [0, 5000]},
      "gridOpacity": {"condition": {"test": "datum.value % 10 === 0 && datum.value > 0", "value": 1}, "value": 0},
      "title": "Infectious period (1/γ, days)", "titleFontSize": 65.5, "titleX": 503, "titleY": 119, "titleBaseline": "alphabetic", "titleAlign": "center"}},
  "x2": {"field": "d"},
  "y": {"field": "b", "type": "quantitative",
    "scale": {"domain": [0, 45], "nice": false, "zero": false},
    "axis": {"values": [0,5,10,15,20,25,30,35,40,45], "ticks": false, "tickSize": 0, "labelPadding": 17, "labelFlush": false, "labelOverlap": false,
      "grid": true, "gridWidth": 2, "gridDash": [8, 10, 2, 5000],
      "gridOpacity": {"condition": {"test": "datum.value === 0", "value": 0}, "value": 1},
      "title": "Transmission Rate (β, yr⁻¹)", "titleX": -85, "titleY": 477, "titleAngle": -90, "titleBaseline": "alphabetic", "titleAlign": "center"}},
  "y2": {"field": "b"},
  "color": {"field": "r", "type": "quantitative",
    "scale": {"domain": [0.027, 1.03, 1.035, 1.25, 1.5, 1.85, 2.5, 3.0, 3.5, 4.0, 4.5, 5.0, 5.506],
              "range": ["#ffffff", "#ffffff", "#ebebff", "#b4b4ff", "#7878ff", "#0014ff", "#00ffff", "#80ff80", "#ffff00", "#ff8c00", "#ff2000", "#c41800", "#8a0800"],
              "interpolate": "rgb", "clamp": true},
    "legend": {"orient": "none", "legendX": 1038, "legendY": 0, "direction": "vertical", "title": null,
      "gradientLength": 916, "gradientThickness": 70, "gradientStrokeColor": "#000", "gradientStrokeWidth": 2,
      "values": [0.5, 1, 1.5, 2, 2.5, 3, 3.5, 4, 4.5, 5, 5.5], "format": "~g",
      "labelFont": "Liberation Sans", "labelFontSize": 31, "labelColor": "#000", "labelOffset": 4, "padding": 0,
      "encode": {"gradient": {"update": {"fill": {"gradient": "color", "start": [0, 1], "stop": [0, 0], "count": 400}}}}}}
}
},
{
"data": {"values": [{"label": "R", "d": 15.6, "b": 11.87}, {"label": "<", "d": 20.79, "b": 11.87}, {"label": "1", "d": 24.3, "b": 11.87}]},
"mark": {"type": "text", "font": "Roboto", "fontWeight": 300, "fontSize": 80, "color": "#878787", "align": "left", "baseline": "alphabetic"},
"encoding": {"x": {"field": "d", "type": "quantitative"}, "y": {"field": "b", "type": "quantitative"}, "text": {"field": "label"}}
},
{
"data": {"values": [{"label": "0", "d": 18.09, "b": 10.68}]},
"mark": {"type": "text", "font": "Roboto", "fontWeight": 300, "fontSize": 56, "color": "#878787", "align": "left", "baseline": "alphabetic"},
"encoding": {"x": {"field": "d", "type": "quantitative"}, "y": {"field": "b", "type": "quantitative"}, "text": {"field": "label"}}
}
]
}
